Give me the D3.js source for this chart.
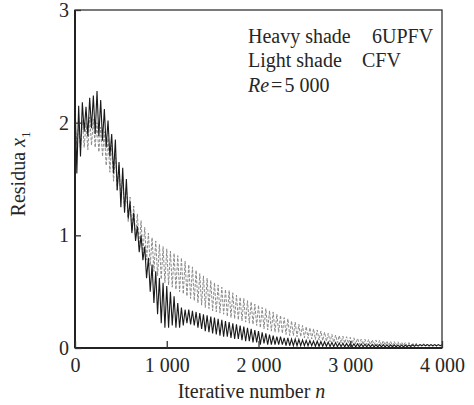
<!DOCTYPE html>
<html>
<head>
<meta charset="utf-8">
<script src="https://cdn.jsdelivr.net/npm/d3@7"></script>
<style>
  html, body { margin: 0; padding: 0; background: #fff; }
  #chart { width: 474px; height: 405px; }
  text { font-family: "Liberation Serif", "Times New Roman", serif; fill: #262626; }
</style>
</head>
<body>
<div id="chart"></div>
<script>
//Iteraciones muestreadas (cada 20)
const ITER = d3.range(0, 4001, 20);

//Residuo 6UPFV (sombra oscura), picos y valles alternos
const HEAVY_6UPFV = [
  2.20, 1.55, 2.15, 1.70, 2.18, 1.92, 2.14, 1.88, 2.22, 1.95,
  2.24, 1.90, 2.28, 1.88, 2.20, 1.84, 2.12, 1.78, 2.02, 1.70,
  1.90, 1.55, 1.85, 1.40, 1.65, 1.25, 1.60, 1.20, 1.50, 1.15,
  1.30, 1.02, 1.20, 0.95, 1.08, 0.85, 1.00, 0.78, 0.90, 0.62,
  0.80, 0.50, 0.74, 0.40, 0.68, 0.30, 0.62, 0.22, 0.58, 0.18,
  0.55, 0.18, 0.50, 0.20, 0.46, 0.18, 0.40, 0.18, 0.36, 0.20,
  0.34, 0.22, 0.34, 0.21, 0.33, 0.20, 0.32, 0.18, 0.31, 0.17,
  0.30, 0.15, 0.29, 0.14, 0.28, 0.13, 0.27, 0.12, 0.26, 0.11,
  0.25, 0.10, 0.24, 0.10, 0.23, 0.09, 0.22, 0.08, 0.21, 0.08,
  0.20, 0.07, 0.19, 0.06, 0.18, 0.06, 0.17, 0.05, 0.16, 0.05,
  0.15, 0.03, 0.14, 0.04, 0.13, 0.03, 0.12, 0.03, 0.11, 0.03,
  0.10, 0.03, 0.10, 0.03, 0.09, 0.02, 0.09, 0.02, 0.08, 0.02,
  0.08, 0.02, 0.075, 0.02, 0.07, 0.02, 0.068, 0.02, 0.065, 0.02,
  0.062, 0.015, 0.06, 0.015, 0.058, 0.015, 0.055, 0.015, 0.052, 0.012,
  0.05, 0.012, 0.048, 0.012, 0.045, 0.012, 0.043, 0.01, 0.04, 0.01,
  0.04, 0.01, 0.038, 0.01, 0.037, 0.01, 0.035, 0.01, 0.034, 0.01,
  0.033, 0.01, 0.032, 0.01, 0.03, 0.01, 0.03, 0.01, 0.03, 0.01,
  0.029, 0.01, 0.028, 0.01, 0.028, 0.01, 0.027, 0.01, 0.027, 0.01,
  0.026, 0.012, 0.027, 0.013, 0.028, 0.015, 0.029, 0.017, 0.03, 0.02,
  0.03, 0.02, 0.03, 0.02, 0.03, 0.02, 0.03, 0.02, 0.03, 0.02,
  0.028
];

//Residuo CFV (sombra clara)
const LIGHT_CFV = [
  2.00, 1.80, 1.98, 1.76, 2.02, 1.78, 2.00, 1.76, 2.05, 1.80,
  2.03, 1.78, 2.00, 1.74, 1.96, 1.70, 1.92, 1.62, 1.86, 1.56,
  1.80, 1.48, 1.72, 1.40, 1.62, 1.32, 1.52, 1.22, 1.42, 1.12,
  1.34, 1.04, 1.26, 0.97, 1.19, 0.90, 1.13, 0.84, 1.07, 0.78,
  1.02, 0.73, 0.98, 0.68, 0.95, 0.64, 0.92, 0.61, 0.90, 0.58,
  0.88, 0.56, 0.86, 0.54, 0.84, 0.52, 0.82, 0.50, 0.80, 0.48,
  0.77, 0.46, 0.74, 0.44, 0.72, 0.42, 0.69, 0.40, 0.66, 0.38,
  0.64, 0.36, 0.62, 0.35, 0.60, 0.33, 0.58, 0.32, 0.56, 0.31,
  0.54, 0.30, 0.52, 0.28, 0.51, 0.27, 0.49, 0.26, 0.47, 0.25,
  0.45, 0.24, 0.44, 0.23, 0.42, 0.22, 0.41, 0.21, 0.39, 0.20,
  0.38, 0.18, 0.36, 0.17, 0.35, 0.16, 0.33, 0.15, 0.32, 0.14,
  0.30, 0.14, 0.29, 0.13, 0.27, 0.12, 0.26, 0.11, 0.24, 0.11,
  0.23, 0.10, 0.21, 0.10, 0.20, 0.09, 0.19, 0.085, 0.18, 0.08,
  0.17, 0.075, 0.16, 0.07, 0.15, 0.065, 0.14, 0.06, 0.13, 0.055,
  0.12, 0.05, 0.115, 0.048, 0.11, 0.045, 0.105, 0.042, 0.10, 0.04,
  0.095, 0.038, 0.09, 0.035, 0.085, 0.032, 0.08, 0.03, 0.078, 0.03,
  0.075, 0.03, 0.072, 0.028, 0.07, 0.025, 0.067, 0.025, 0.065, 0.025,
  0.062, 0.022, 0.06, 0.02, 0.057, 0.02, 0.055, 0.02, 0.052, 0.02,
  0.05, 0.02, 0.048, 0.019, 0.045, 0.018, 0.042, 0.018, 0.04, 0.018,
  0.038, 0.016, 0.035, 0.015, 0.033, 0.015, 0.031, 0.015, 0.03, 0.015,
  0.03
];

//Ejes
const X_TICKS = [0, 1000, 2000, 3000, 4000];
const X_TICK_LABELS = ['0', '1 000', '2 000', '3 000', '4 000'];
const Y_TICKS = [0, 1, 2, 3];
const Y_TICK_LABELS = ['0', '1', '2', '3'];

let margin = {top: 10, right: 32, bottom: 57, left: 75},
    width = 474 - margin.left - margin.right,
    height = 405 - margin.top - margin.bottom;

let svg = d3.select('#chart')
  .append('svg')
    .attr('width', 474)
    .attr('height', 405)
  .append('g')
    .attr('transform', 'translate(' + margin.left + ',' + margin.top + ')');

let x = d3.scaleLinear().domain([0, 4000]).range([0, width]);
let y = d3.scaleLinear().domain([0, 3]).range([height, 0]);

let line = d3.line()
  .x(function(d, i) { return x(ITER[i]); })
  .y(function(d) { return y(d); });

//Series
svg.append('path')
  .datum(LIGHT_CFV)
  .attr('fill', 'none')
  .attr('stroke', '#8a8a8a')
  .attr('stroke-width', 1)
  .attr('stroke-dasharray', '3 1.5')
  .attr('d', line);

svg.append('path')
  .datum(HEAVY_6UPFV)
  .attr('fill', 'none')
  .attr('stroke', '#1a1a1a')
  .attr('stroke-width', 1.1)
  .attr('d', line);

//Marco
svg.append('rect')
  .attr('x', 0).attr('y', 0)
  .attr('width', width).attr('height', height)
  .attr('fill', 'none')
  .attr('stroke', '#333')
  .attr('stroke-width', 1.3);

svg.append('line')
  .attr('x1', 0).attr('x2', 0)
  .attr('y1', 0).attr('y2', height)
  .attr('stroke', '#222')
  .attr('stroke-width', 2);

svg.append('line')
  .attr('x1', 0).attr('x2', width)
  .attr('y1', height).attr('y2', height)
  .attr('stroke', '#222')
  .attr('stroke-width', 1.8);

//Eje X
let xAxis = svg.append('g')
  .attr('transform', 'translate(0,' + height + ')')
  .call(d3.axisBottom(x)
    .tickValues(X_TICKS)
    .tickSize(-7)
    .tickPadding(10)
    .tickFormat(function(d, i) { return X_TICK_LABELS[i]; }));
xAxis.select('.domain').remove();
xAxis.selectAll('.tick line').attr('stroke', '#333').attr('stroke-width', 1.3);
xAxis.selectAll('.tick text')
  .style('font-size', '20px')
  .style('font-family', '"Liberation Serif", serif')
  .attr('fill', '#262626');

//Eje Y
let yAxis = svg.append('g')
  .call(d3.axisLeft(y)
    .tickValues(Y_TICKS)
    .tickSize(-6)
    .tickPadding(6)
    .tickFormat(function(d, i) { return Y_TICK_LABELS[i]; }));
yAxis.select('.domain').remove();
yAxis.selectAll('.tick line').attr('stroke', '#333').attr('stroke-width', 1.3);
yAxis.selectAll('.tick text')
  .style('font-size', '20px')
  .style('font-family', '"Liberation Serif", serif')
  .attr('fill', '#262626');

//Titulos de ejes
svg.append('text')
  .attr('x', width / 2 - 7)
  .attr('y', height + 50)
  .attr('text-anchor', 'middle')
  .style('font-size', '20px')
  .html('Iterative number <tspan font-style="italic">n</tspan>');

svg.append('text')
  .attr('transform', 'translate(-50,' + (height / 2 - 5) + ') rotate(-90)')
  .attr('text-anchor', 'middle')
  .style('font-size', '20px')
  .html('Residua <tspan font-style="italic">x</tspan><tspan font-size="13px" dy="5">1</tspan>');

//Leyenda
let legend = svg.append('g').attr('transform', 'translate(173,0)');
legend.append('text').attr('x', 0).attr('y', 33).style('font-size', '20px').text('Heavy shade');
legend.append('text').attr('x', 124).attr('y', 33).style('font-size', '20px').text('6UPFV');
legend.append('text').attr('x', 0).attr('y', 57).style('font-size', '20px').text('Light shade');
legend.append('text').attr('x', 114).attr('y', 57).style('font-size', '20px').text('CFV');
legend.append('text').attr('x', 0).attr('y', 82).style('font-size', '20px')
  .html('<tspan font-style="italic">Re</tspan><tspan dx="2">=</tspan><tspan dx="2">5 000</tspan>');
</script>
</body>
</html>
